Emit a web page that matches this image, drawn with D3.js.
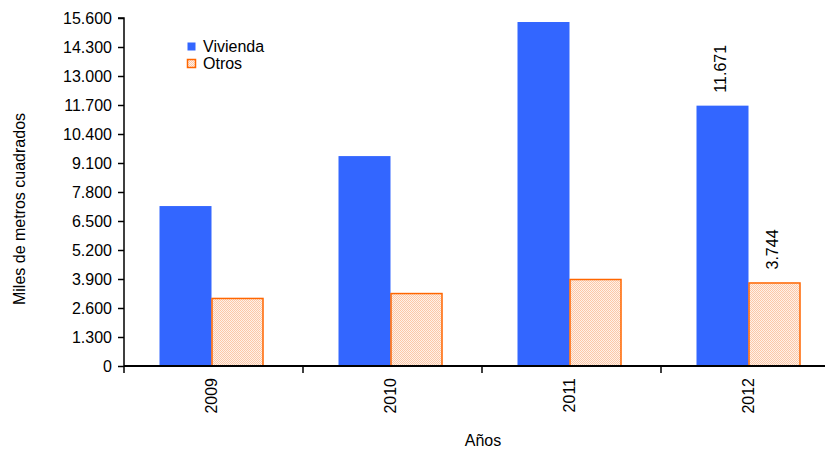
<!DOCTYPE html>
<html><head><meta charset="utf-8">
<script src="https://cdn.jsdelivr.net/npm/d3@7"></script>
<style>body{margin:0;background:#fff}svg{display:block;font-family:"Liberation Sans",Arial,sans-serif}</style>
</head><body>
<svg id="c" width="825" height="451"></svg>
<script>
const years = ["2009","2010","2011","2012"];
const vivienda = [7170, 9410, 15420, 11671];
const otros = [3050, 3270, 3900, 3744];
const yTicks = [0,1300,2600,3900,5200,6500,7800,9100,10400,11700,13000,14300,15600];
const seriesNames = ["Vivienda","Otros"];
const labelled = {"2012": true};

const svg = d3.select("#c");
const L = 124, T = 18, B = 366, R = 840;
const loc = d3.formatLocale({decimal:",", thousands:".", grouping:[3], currency:["",""]});
const fmt = loc.format(",d");

const x = d3.scaleBand().domain(years).range([L, R]).padding(0);
const y = d3.scaleLinear().domain([0, 15600]).range([B, T]);
const bw = 52;
const off = -2;

const defs = svg.append("defs");
const pat = defs.append("pattern").attr("id","hatch").attr("patternUnits","userSpaceOnUse").attr("width",2).attr("height",2);
pat.append("rect").attr("width",2).attr("height",2).attr("fill","#fff1e8");
pat.append("rect").attr("x",0).attr("y",0).attr("width",1).attr("height",1).attr("fill","#fbc8a8");
pat.append("rect").attr("x",1).attr("y",1).attr("width",1).attr("height",1).attr("fill","#fbc8a8");

// bars
svg.append("g").selectAll("rect").data(years).join("rect")
  .attr("x", d => x(d) + x.bandwidth()/2 - bw + off)
  .attr("y", (d,i) => y(vivienda[i]))
  .attr("width", bw)
  .attr("height", (d,i) => B - y(vivienda[i]))
  .attr("fill", "#3366ff");

svg.append("g").selectAll("rect").data(years).join("rect")
  .attr("x", d => x(d) + x.bandwidth()/2 + off + 0.5)
  .attr("y", (d,i) => y(otros[i]) + 0.5)
  .attr("width", bw - 1)
  .attr("height", (d,i) => B - y(otros[i]) - 0.5)
  .attr("fill", "url(#hatch)")
  .attr("stroke", "#ff6600")
  .attr("stroke-width", 1.5);

// data labels
years.forEach((d,i) => {
  if (!labelled[d]) return;
  const cx1 = x(d) + x.bandwidth()/2 - bw/2 + off - 2;
  svg.append("text").attr("transform", `translate(${cx1},${y(vivienda[i]) - 13}) rotate(-90)`)
    .attr("dy","0.35em").attr("font-size",16).attr("fill","#000").text(fmt(vivienda[i]));
  const cx2 = x(d) + x.bandwidth()/2 + bw/2 + off - 2;
  svg.append("text").attr("transform", `translate(${cx2},${y(otros[i]) - 13}) rotate(-90)`)
    .attr("dy","0.35em").attr("font-size",16).attr("fill","#000").text(fmt(otros[i]));
});

// y axis
const ya = svg.append("g").attr("transform",`translate(${L},0)`)
  .call(d3.axisLeft(y).tickValues(yTicks).tickFormat(fmt).tickSize(6).tickPadding(6));
ya.select(".domain").attr("stroke","#000").attr("stroke-width",1.5).attr("d",`M-6,${T}H0V${B}`);
ya.selectAll(".tick line").attr("stroke","#000").attr("stroke-width",1.5);
ya.selectAll("text").attr("font-size",16).attr("fill","#000").attr("font-family","Liberation Sans, Arial, sans-serif");

// x axis
const xa = svg.append("g").attr("transform",`translate(0,${B})`);
xa.append("line").attr("x1",L).attr("x2",825).attr("stroke","#000").attr("stroke-width",2);
xa.selectAll("line.t").data(years).join("line").attr("class","t")
  .attr("x1", d => x(d)).attr("x2", d => x(d)).attr("y1",0).attr("y2",7)
  .attr("stroke","#000").attr("stroke-width",1.5);
xa.selectAll("text").data(years).join("text")
  .attr("transform", d => `translate(${x(d)+x.bandwidth()/2 - 2},12) rotate(-90)`)
  .attr("text-anchor","end").attr("dy","0.35em").attr("font-size",16).attr("fill","#000").text(d => d);

// axis titles
svg.append("text").attr("x",483).attr("y",446).attr("text-anchor","middle").attr("font-size",16).text("Años");
svg.append("text").attr("transform","translate(25,209) rotate(-90)").attr("text-anchor","middle").attr("font-size",16).text("Miles de metros cuadrados");

// legend
const lg = svg.append("g");
const sw = [{fill:"#3366ff",stroke:"none"},{fill:"url(#hatch)",stroke:"#ff6600"}];
seriesNames.forEach((n,i) => {
  const yy = 42 + i*17;
  lg.append("rect").attr("x",187.5).attr("y",yy+0.5).attr("width",8).attr("height",8)
    .attr("fill",sw[i].fill).attr("stroke",sw[i].stroke).attr("stroke-width",1.5);
  lg.append("text").attr("x",203).attr("y",yy+4).attr("dy","0.35em").attr("font-size",16).text(n);
});
</script>
</body></html>
